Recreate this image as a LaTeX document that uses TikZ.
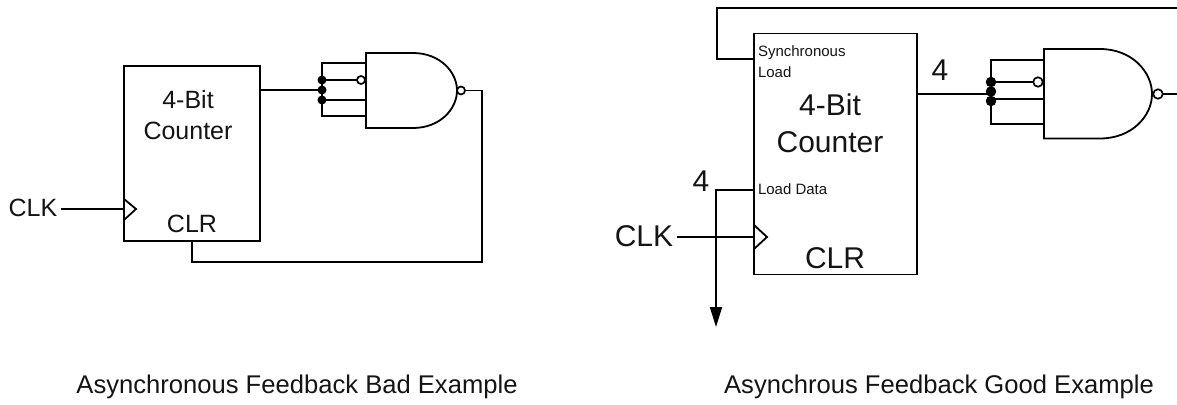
\documentclass[tikz,border=0pt]{standalone}
\usepackage{fontspec}
\setmainfont{Liberation Sans}
\usetikzlibrary{arrows.meta}
\begin{document}
\begin{tikzpicture}[x=1pt,y=-1pt,line width=1.8pt,line join=miter,
  lbl/.style={inner sep=0pt,outer sep=0pt,text=black!92},
  big/.style={lbl,font=\fontsize{30}{34}\selectfont},
  mid/.style={lbl,font=\fontsize{25}{29}\selectfont},
  tiny/.style={lbl,font=\fontsize{15}{18}\selectfont,anchor=west},
  capt/.style={lbl,font=\fontsize{25.6}{30}\selectfont,anchor=base},
  blockbox/.style={draw,rectangle,inner sep=0pt,outer sep=0pt,anchor=north west},
  dotj/.style={circle,fill=black,draw=none,inner sep=0pt,minimum size=#1},
  bub/.style={circle,draw,fill=white,inner sep=0pt,outer sep=0pt,line width=1.7pt,minimum size=#1}]
\useasboundingbox (0,0) rectangle (1177,404);
% ---------- left
\node[blockbox,minimum width=136pt,minimum height=175pt] (LB) at (124,66) {};
\coordinate (LClkPin) at (124,209);
\coordinate (LOutPin) at (260,90);
\coordinate (LClrPin) at (192,241);
\coordinate (LClkS) at (61,209);
\node[mid] (LClk) at (33,208) {CLK};
\node[mid] (LBit) at (188,100) {4-Bit};
\node[mid] (LCnt) at (188,131) {Counter};
\node[mid] (LClr) at (192,224) {CLR};
\draw (LClkS) -- (LClkPin);
\draw (124,199) -- (136,209) -- (124,220);
% gate
\draw[fill=white] (366,53) -- (413,53) .. controls (440,53) and (457,72) .. (457,90.5) .. controls (457,109) and (440,128) .. (413,128) -- (366,128) -- cycle;
\coordinate (LBusT) at (322,63);
\coordinate (LBusB) at (322,116);
\coordinate (LGT) at (366,63);
\coordinate (LGB) at (366,116);
\node[dotj=9pt] (LD1) at (322,80) {};
\node[dotj=9pt] (LD2) at (322,90) {};
\node[dotj=9pt] (LD3) at (322,100) {};
\node[bub=8pt] (LB1) at (361,80) {};
\node[bub=8pt] (LB2) at (461,90.5) {};
\coordinate (LG3) at (366,100);
\draw (LGT) -- (LBusT) -- (LBusB) -- (LGB);
\draw (LOutPin) -- (LD2.center);
\draw (LD1.center) -- (LB1);
\draw (LD3.center) -- (LG3);
\coordinate (LC1) at (482,90.5);
\coordinate (LC2) at (482,262);
\coordinate (LC3) at (192,262);
\draw (LB2) -- (LC1) -- (LC2) -- (LC3) -- (LClrPin);
\node[capt] (LCap) at (297,393) {Asynchronous Feedback Bad Example};
% ---------- right
\node[blockbox,minimum width=163pt,minimum height=241pt] (RB) at (754,33.5) {};
\coordinate (RClkPin) at (754,237);
\coordinate (RLoadPin) at (754,190);
\coordinate (RSyncPin) at (754,59);
\coordinate (ROutPin) at (917,94);
\node[big] (RClk) at (644,236) {CLK};
\node[big] (RBit) at (830,105) {4-Bit};
\node[big] (RCnt) at (830,142) {Counter};
\node[big] (RClr) at (835,258) {CLR};
\node[big] (RFourA) at (701,181) {4};
\node[big] (RFourB) at (940,70) {4};
\node[tiny] (RS1) at (758,53) {Synchronous};
\node[tiny] (RS2) at (758,72) {Load};
\node[tiny] (RLd) at (758,189) {Load Data};
\coordinate (RClkS) at (677,237);
\draw (RClkS) -- (RClkPin);
\draw (754,225) -- (767,237) -- (754,249);
\coordinate (RLd1) at (716,190);
\coordinate (RLd2) at (716,327);
\draw[-{Triangle[length=20pt,width=12pt]}] (RLoadPin) -- (RLd1) -- (RLd2);
\draw[fill=white] (1044,49) -- (1100,49) .. controls (1132,49) and (1152,72) .. (1152,94) .. controls (1152,116) and (1132,138.5) .. (1100,138.5) -- (1044,138.5) -- cycle;
\coordinate (RBusT) at (991,60);
\coordinate (RBusB) at (991,124);
\coordinate (RGT) at (1044,60);
\coordinate (RGB) at (1044,124);
\node[dotj=10.5pt] (RD1) at (991,82) {};
\node[dotj=10.5pt] (RD2) at (991,91.5) {};
\node[dotj=10.5pt] (RD3) at (991,101) {};
\node[bub=9.5pt] (RB1) at (1038,82) {};
\node[bub=9.5pt] (RB2) at (1158,94) {};
\coordinate (RG3) at (1044,99);
\draw (RGT) -- (RBusT) -- (RBusB) -- (RGB);
\draw (ROutPin) -- (991,94);
\draw (RD1.center) -- (RB1);
\draw (991,99) -- (RG3);
\coordinate (RE1) at (1177,94);
\draw (RB2) -- (RE1);
\coordinate (RF1) at (1177,8);
\coordinate (RF2) at (717,8);
\coordinate (RF3) at (717,59);
\draw (RF1) -- (RF2) -- (RF3) -- (RSyncPin);
\node[capt] (RCap) at (939,393) {Asynchrous Feedback Good Example};
\end{tikzpicture}
\end{document}
